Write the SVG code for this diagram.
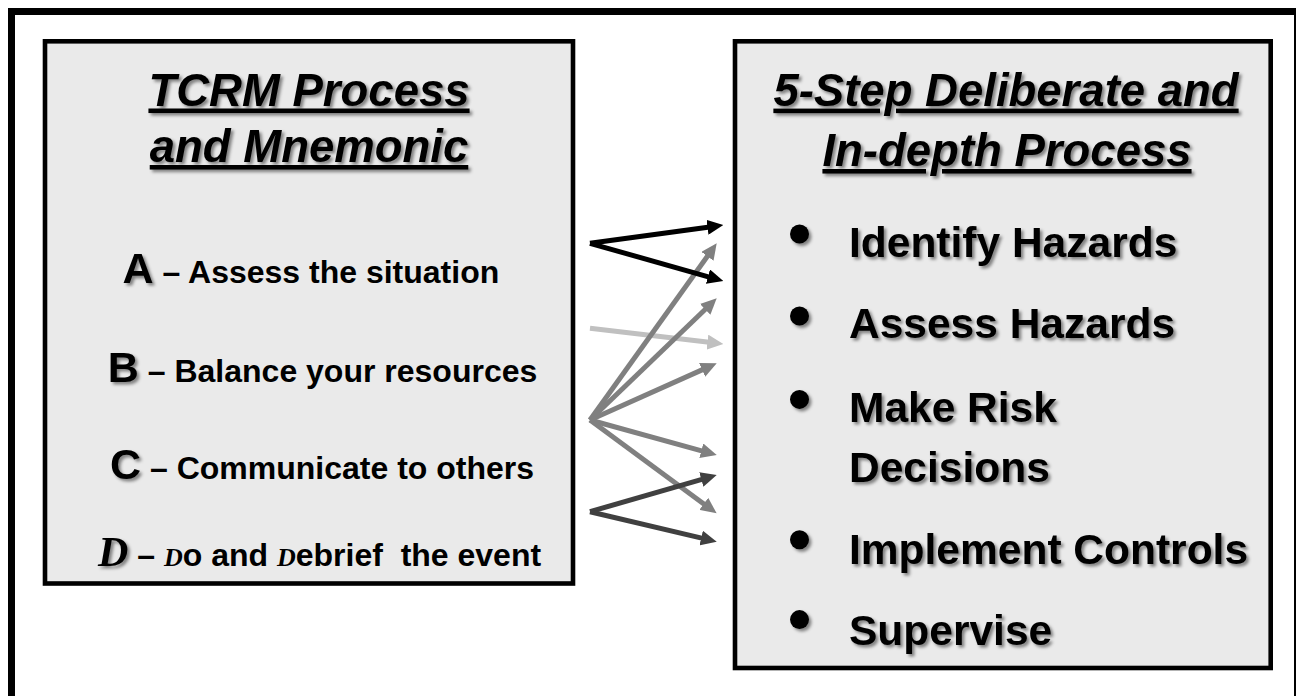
<svg xmlns="http://www.w3.org/2000/svg" width="1296" height="696" viewBox="0 0 1296 696">
<defs>
<style>
.frame{fill:#fff;stroke:#000;stroke-width:7}
.box{fill:#eaeaea;stroke:#000;stroke-width:4.6}
.title{font-family:"Liberation Sans",Arial,sans-serif;font-weight:bold;font-style:italic;font-size:45.5px;text-anchor:middle;text-decoration:underline;fill:#000}
.item{font-family:"Liberation Sans",Arial,sans-serif;font-weight:bold;font-size:32px;fill:#000}
.big{font-size:43px}
.bigD{font-family:"Liberation Serif","Times New Roman",serif;font-style:italic;font-weight:bold;font-size:42px}
.smD{font-family:"Liberation Serif","Times New Roman",serif;font-style:italic;font-weight:bold;font-size:26px}
.ritem{font-family:"Liberation Sans",Arial,sans-serif;font-weight:bold;font-size:42.5px;fill:#000}
.arr{fill:none;stroke-width:5}
</style>
<filter id="sh" x="-10%" y="-20%" width="130%" height="150%">
<feDropShadow dx="2.5" dy="2.5" stdDeviation="1.6" flood-color="#000" flood-opacity="0.45"/>
</filter>
<marker id="mBlack" markerUnits="userSpaceOnUse" markerWidth="16" markerHeight="15" refX="6" refY="7.5" orient="auto"><path d="M0,0 L16,7.5 L0,15 z" fill="#000"/></marker>
<marker id="mLight" markerUnits="userSpaceOnUse" markerWidth="16" markerHeight="15" refX="6" refY="7.5" orient="auto"><path d="M0,0 L16,7.5 L0,15 z" fill="#c0c0c0"/></marker>
<marker id="mGray" markerUnits="userSpaceOnUse" markerWidth="16" markerHeight="15" refX="6" refY="7.5" orient="auto"><path d="M0,0 L16,7.5 L0,15 z" fill="#808080"/></marker>
<marker id="mDark" markerUnits="userSpaceOnUse" markerWidth="16" markerHeight="15" refX="6" refY="7.5" orient="auto"><path d="M0,0 L16,7.5 L0,15 z" fill="#404040"/></marker>
</defs>
<rect class="frame" x="11.5" y="11.5" width="1286" height="700"/>

<g id="tcrm">
<rect class="box" x="45" y="41.3" width="528" height="542.2"/>
<text class="title" x="309" y="105.5" filter="url(#sh)">TCRM Process</text>
<text class="title" x="309" y="162" filter="url(#sh)">and Mnemonic</text>
<text class="item" x="122.6" y="283.4"><tspan class="big" filter="url(#sh)">A</tspan> – Assess the situation</text>
<text class="item" x="107.8" y="381.5"><tspan class="big" filter="url(#sh)">B</tspan> – Balance your resources</text>
<text class="item" x="110" y="479"><tspan class="big" filter="url(#sh)">C</tspan> – Communicate to others</text>
<text class="item" x="98" y="565.7" style="white-space:pre"><tspan class="bigD" filter="url(#sh)">D</tspan> – <tspan class="smD">D</tspan>o and <tspan class="smD">D</tspan>ebrief  the event</text>
</g>

<g id="five-step">
<rect class="box" x="735" y="41.3" width="535.7" height="626.7"/>
<text class="title" x="1006" y="105.6" filter="url(#sh)">5-Step Deliberate and</text>
<text class="title" x="1007" y="166" filter="url(#sh)">In-depth Process</text>
<g filter="url(#sh)">
<circle cx="799.5" cy="234" r="9.5"/>
<circle cx="799.5" cy="316" r="9.5"/>
<circle cx="799.5" cy="399.4" r="9.5"/>
<circle cx="799.5" cy="539.7" r="9.5"/>
<circle cx="799.5" cy="619.6" r="9.5"/>
<text class="ritem" x="849" y="257.3">Identify Hazards</text>
<text class="ritem" x="849" y="338.3">Assess Hazards</text>
<text class="ritem" x="849" y="421.8">Make Risk</text>
<text class="ritem" x="849" y="482">Decisions</text>
<text class="ritem" x="849" y="563.9">Implement Controls</text>
<text class="ritem" x="849" y="644.5">Supervise</text>
</g>
</g>

<g id="connectors">
<line class="arr" stroke="#c0c0c0" marker-end="url(#mLight)" x1="590" y1="328.3" x2="713.4" y2="342.8"/>
<g stroke="#808080">
<line class="arr" marker-end="url(#mGray)" x1="590" y1="420" x2="710.9" y2="251.4"/>
<line class="arr" marker-end="url(#mGray)" x1="590" y1="420" x2="709.5" y2="305.2"/>
<line class="arr" marker-end="url(#mGray)" x1="590" y1="420" x2="707.6" y2="367.4"/>
<line class="arr" marker-end="url(#mGray)" x1="590" y1="420" x2="707.1" y2="452.3"/>
<line class="arr" marker-end="url(#mGray)" x1="590" y1="420" x2="708.6" y2="507.4"/>
</g>
<g stroke="#000">
<line class="arr" marker-end="url(#mBlack)" x1="590" y1="243.3" x2="713.4" y2="226.4"/>
<line class="arr" marker-end="url(#mBlack)" x1="590" y1="243.3" x2="713.7" y2="278.3"/>
</g>
<g stroke="#404040">
<line class="arr" marker-end="url(#mDark)" x1="590" y1="511.7" x2="707.1" y2="477.8"/>
<line class="arr" marker-end="url(#mDark)" x1="590" y1="511.7" x2="707" y2="539.4"/>
</g>
</g>
</svg>
